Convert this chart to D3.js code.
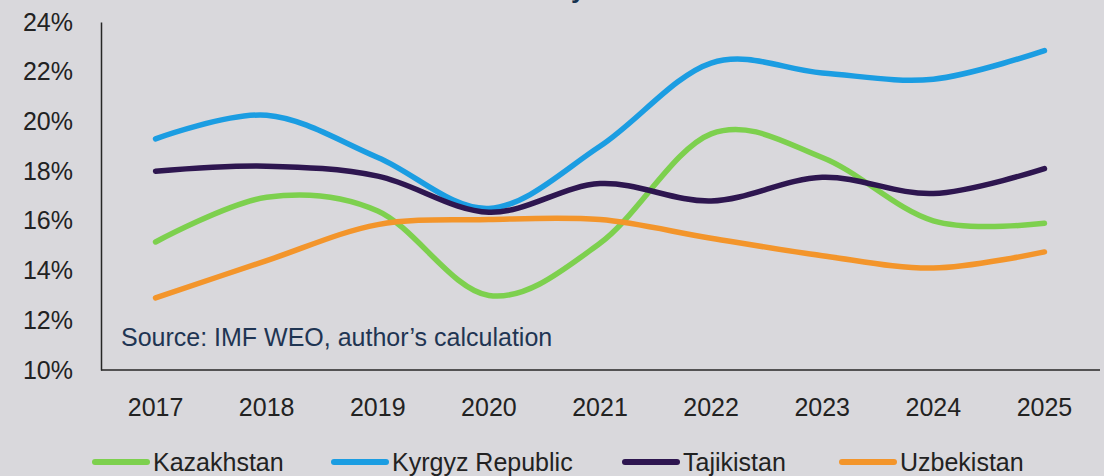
<!DOCTYPE html>
<html>
<head>
<meta charset="utf-8">
<script src="https://cdn.jsdelivr.net/npm/d3@7"></script>
<style>
  html, body { margin: 0; padding: 0; background: #d9d8dc; }
  svg { display: block; font-family: "Liberation Sans", Arial, sans-serif; }
</style>
</head>
<body>
<svg id="chart" width="1104" height="476"></svg>
<script>
// years on the x axis
const years = ["2017", "2018", "2019", "2020", "2021", "2022", "2023", "2024", "2025"];

// series values, in percent
const kazakhstan = [15.15, 16.95, 16.4, 13.0, 15.1, 19.5, 18.55, 16.0, 15.9];
const kyrgyz = [19.3, 20.25, 18.55, 16.5, 19.0, 22.35, 21.95, 21.7, 22.85];
const tajikistan = [18.0, 18.2, 17.8, 16.35, 17.5, 16.8, 17.75, 17.1, 18.1];
const uzbekistan = [12.9, 14.4, 15.85, 16.05, 16.05, 15.3, 14.6, 14.1, 14.75];

// tick values for y axis
const yTicks = [10, 12, 14, 16, 18, 20, 22, 24];

const seriesNames = ["Kazakhstan", "Kyrgyz Republic", "Tajikistan", "Uzbekistan"];
const seriesColors = ["#7dd04e", "#1b9de2", "#2e1650", "#f3952b"];

let svg = d3.select("#chart");
let width = +svg.attr("width");
let height = +svg.attr("height");

let margin = {top: 22, right: 4, bottom: 106, left: 100};

let x = d3.scaleBand()
    .domain(years)
    .range([margin.left, width - margin.right]);

let y = d3.scaleLinear()
    .domain([10, 24])
    .range([height - margin.bottom, margin.top]);

//background
svg.append("rect")
    .attr("width", width)
    .attr("height", height)
    .attr("fill", "#d9d8dc");

//cut off title, only the descender is visible at the top
svg.append("text")
    .attr("x", 571)
    .attr("y", -2)
    .attr("font-size", 26)
    .attr("font-weight", "bold")
    .attr("fill", "#17324f")
    .text("y");

//y axis: line plus labels, no tick marks
let yAxis = svg.append("g")
    .attr("transform", "translate(" + (margin.left + 1) + ",0)")
    .call(d3.axisLeft(y).tickValues(yTicks).tickSize(0).tickPadding(28)
        .tickFormat(d => d + "%"));
yAxis.select(".domain").attr("stroke", "#262626").attr("stroke-width", 1.5);
yAxis.selectAll("text")
    .attr("font-size", 25)
    .attr("font-family", "Liberation Sans, Arial, sans-serif")
    .attr("fill", "#222");

//x axis
let xAxis = svg.append("g")
    .attr("transform", "translate(0," + y(10) + ")")
    .call(d3.axisBottom(x).tickSize(0).tickPadding(28));
xAxis.select(".domain")
    .attr("d", "M" + (margin.left + 1) + ",0H" + (width - margin.right))
    .attr("stroke", "#262626").attr("stroke-width", 1.5);
xAxis.selectAll("text")
    .attr("font-size", 25)
    .attr("font-family", "Liberation Sans, Arial, sans-serif")
    .attr("fill", "#222");

//source note inside the plot
svg.append("text")
    .attr("x", 121)
    .attr("y", 346)
    .attr("font-size", 25)
    .attr("fill", "#1f3553")
    .text("Source: IMF WEO, author\u2019s calculation");

//the smoothed lines
let line = d3.line()
    .x((d, i) => x(years[i]) + x.bandwidth() / 2)
    .y(d => y(d))
    .curve(d3.curveCardinal.tension(0));

let allSeries = [kazakhstan, kyrgyz, tajikistan, uzbekistan];

svg.append("g")
    .selectAll("path")
    .data(allSeries)
    .enter().append("path")
    .attr("d", line)
    .attr("fill", "none")
    .attr("stroke", (d, i) => seriesColors[i])
    .attr("stroke-width", 5.5)
    .attr("stroke-linecap", "round")
    .attr("stroke-linejoin", "round");

//legend
let legendX = [95, 334, 625, 842];
let legend = svg.append("g")
    .selectAll("g")
    .data(seriesNames)
    .enter().append("g")
    .attr("transform", (d, i) => "translate(" + legendX[i] + ",462)");

legend.append("line")
    .attr("x1", 0)
    .attr("x2", 52)
    .attr("stroke", (d, i) => seriesColors[i])
    .attr("stroke-width", 6)
    .attr("stroke-linecap", "round");

legend.append("text")
    .attr("x", 58)
    .attr("y", 9)
    .attr("font-size", 25)
    .attr("fill", "#222")
    .text(d => d);
</script>
</body>
</html>
